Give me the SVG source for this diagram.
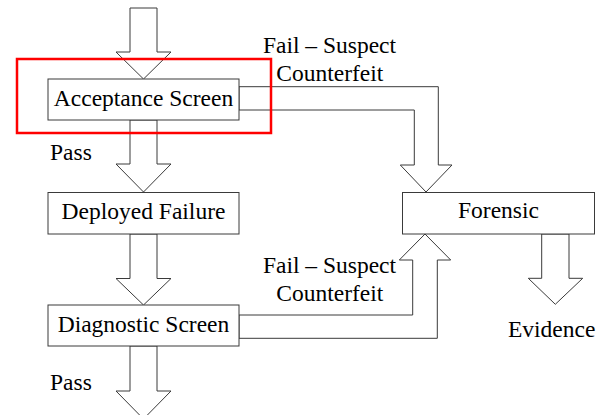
<svg xmlns="http://www.w3.org/2000/svg" width="603" height="415" viewBox="0 0 603 415">
<style>
.box{fill:#fff;stroke:#3a3a3a;stroke-width:1}
.arr{fill:#fff;stroke:#3a3a3a;stroke-width:1;stroke-linejoin:miter}
text{font-family:"Liberation Serif","Times New Roman",serif;font-size:23.5px;fill:#000}
.c{text-anchor:middle}
</style>
<rect width="603" height="415" fill="#fff"/>
<g id="connectors">
<polygon class="arr" points="130,8 157,8 157,52 171,52 143.5,79 116,52 130,52"/>
<polygon class="arr" points="130,120 157,120 157,164 171,164 143.5,192 116,164 130,164"/>
<polygon class="arr" points="130,234 157,234 157,278.5 171,278.5 143.5,305 116,278.5 130,278.5"/>
<polygon class="arr" points="130,346 157,346 157,391 171,391 143.5,419 116,391 130,391"/>
<polygon class="arr" points="239,86.7 438.3,86.7 438.3,165 452,165 426,192 400.3,165 414.3,165 414.3,110 239,110"/>
<polygon class="arr" points="239,315 412.7,315 412.7,260 399.3,260 425,234 450.7,260 437.3,260 437.3,338.3 239,338.3"/>
<polygon class="arr" points="541.7,234 569,234 569,278.3 582.7,278.3 555.3,304.3 528.3,278.3 541.7,278.3"/>
<text class="c" x="329.5" y="52.7">Fail – Suspect</text>
<text class="c" x="329.8" y="80.7">Counterfeit</text>
<text class="c" x="329.5" y="272.7">Fail – Suspect</text>
<text class="c" x="329.8" y="301">Counterfeit</text>
<text x="50" y="160">Pass</text>
<text x="50" y="390">Pass</text>
</g>
<g id="acceptance">
<rect class="box" x="48" y="79" width="191" height="41"/>
<text class="c" x="143.5" y="106">Acceptance Screen</text>
</g>
<g id="deployed">
<rect class="box" x="48" y="192.5" width="191" height="41.5"/>
<text class="c" x="143.5" y="219">Deployed Failure</text>
</g>
<g id="diagnostic">
<rect class="box" x="48" y="305" width="191" height="41"/>
<text class="c" x="143.5" y="331.7">Diagnostic Screen</text>
</g>
<g id="forensic">
<rect class="box" x="402.5" y="192.5" width="192" height="41.5"/>
<text class="c" x="498.5" y="218">Forensic</text>
</g>
<g id="evidence">
<text class="c" x="551.7" y="336.7">Evidence</text>
</g>
<g id="highlight">
<rect x="17" y="59" width="254" height="74" fill="none" stroke="#f00" stroke-width="2.5"/>
</g>
</svg>
